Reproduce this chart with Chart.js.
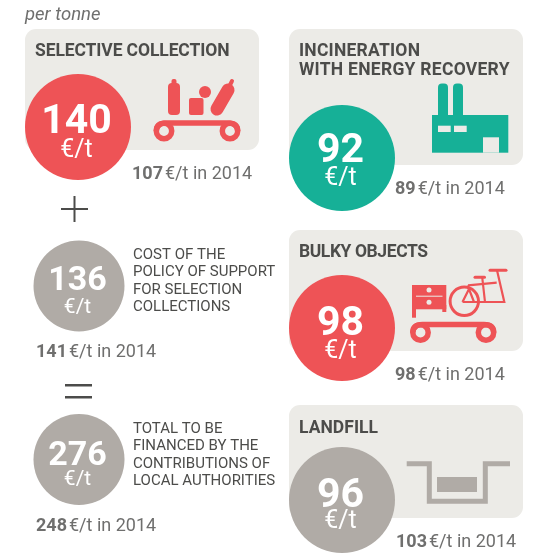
<!DOCTYPE html>
<html>
<head>
<meta charset="utf-8">
<style>
  html, body { margin: 0; padding: 0; background: #fff; }
  canvas { display: block; }
</style>
<script src="https://cdn.jsdelivr.net/npm/chart.js@4/dist/chart.umd.min.js"></script>
</head>
<body>
<canvas id="chart" width="556" height="556"></canvas>
<script>
// values, euros per tonne
const categories = ['Selective collection', 'Incineration with energy recovery', 'Bulky objects', 'Landfill', 'Cost of the policy of support', 'Total to be financed'];
const values2015 = [140, 92, 98, 96, 136, 276];
const values2014 = [107, 89, 98, 103, 141, 248];
const unitLabel = '€/t';
const yearSuffix = '€/t in 2014';
const panelTitles = [['SELECTIVE COLLECTION'], ['INCINERATION', 'WITH ENERGY RECOVERY'], ['BULKY OBJECTS'], ['LANDFILL']];
const sideNotes = [
    ['COST OF THE', 'POLICY OF SUPPORT', 'FOR SELECTION', 'COLLECTIONS'],
    ['TOTAL TO BE', 'FINANCED BY THE', 'CONTRIBUTIONS OF', 'LOCAL AUTHORITIES']
];

const RED = '#ee5356', GREEN = '#16b097', GREY = '#b0aba6', PANEL = '#ecebe7', DARK = '#4c4c4a', MID = '#6f6f6e';
const FONT = 'Roboto, sans-serif';

// layout of the circles, same order as categories
// numY and unitY are the text baselines measured from the circle centre
const circles = [
    { x: 78, y: 127, r: 53, color: RED, numY: 6, unitY: 30 },
    { x: 342, y: 158, r: 53, color: GREEN, numY: 4, unitY: 27 },
    { x: 342, y: 328, r: 53, color: RED, numY: 7, unitY: 30 },
    { x: 342, y: 500, r: 53, color: GREY, numY: 7, unitY: 28 },
    { x: 79, y: 286, r: 45.5, color: GREY, numY: 4, unitY: 26.5 },
    { x: 79, y: 459.5, r: 45.5, color: GREY, numY: 5, unitY: 25.5 }
];
const panels = [[25, 29, 234, 121], [289, 29, 234, 136], [289, 230, 234, 121], [289, 405, 234, 113]];
const titleSpots = [[35, 56], [299, 56], [299, 257], [299, 433]];
const titleWidths = [[194.5], [121, 210.5], [129], [79]];
const lastYearSpots = [[132, 179], [395, 194], [395, 380], [396, 547], [36, 357], [36, 531]];
const noteSpots = [[133, 259], [133, 433]];

// text stretched to the width it has in the picture
function fitText(c, t, x, y, width) {
    c.letterSpacing = '0px';
    const w = c.measureText(t).width;
    c.letterSpacing = ((width - w) / (t.length - 1)) + 'px';
    c.fillText(t, x, y);
    c.letterSpacing = '0px';
}

function cart(c, x1, x2, y, color) {
    // bar curving down into two wheels, shared by two icons
    const r = 7.7;
    c.strokeStyle = color;
    c.lineWidth = 5.5;
    c.lineCap = 'butt';
    c.beginPath();
    c.moveTo(x1 - r, y);
    c.quadraticCurveTo(x1 - r, y - 8, x1 + 2, y - 8);
    c.lineTo(x2 - 2, y - 8);
    c.quadraticCurveTo(x2 + r, y - 8, x2 + r, y);
    c.stroke();
    [x1, x2].forEach(x => {
        c.beginPath();
        c.arc(x, y, r, 0, Math.PI * 2);
        c.stroke();
    });
}

function drawIcons(c) {
    c.save();
    // recyclables on a cart
    cart(c, 164, 230, 131, RED);
    c.fillStyle = RED;
    c.beginPath(); c.roundRect(168, 83, 12, 32, 4); c.fill();
    c.beginPath(); c.roundRect(171.5, 79, 5, 8, 2); c.fill();
    c.beginPath(); c.roundRect(189, 98, 14.5, 17, 2); c.fill();
    c.beginPath(); c.arc(205, 92, 6, 0, Math.PI * 2); c.fill();
    c.strokeStyle = RED;
    c.lineCap = 'round';
    c.lineWidth = 13;
    c.beginPath(); c.moveTo(217, 109); c.lineTo(228, 90); c.stroke();
    c.lineWidth = 4;
    c.beginPath(); c.moveTo(230, 85); c.lineTo(232, 81); c.stroke();

    // factory
    c.fillStyle = GREEN;
    c.fillRect(432, 115, 76.3, 37.7);
    c.beginPath(); c.roundRect(438, 83.5, 10, 40, [4, 4, 0, 0]); c.fill();
    c.beginPath(); c.roundRect(453, 83.5, 10, 40, [4, 4, 0, 0]); c.fill();
    c.fillStyle = PANEL;
    c.fillRect(438, 125.7, 12.7, 6.3);
    c.fillRect(454, 125.7, 12.7, 6.3);
    c.fillRect(483, 137.3, 16, 15.4);

    // bulky objects on a cart
    cart(c, 420.5, 486, 332.5, RED);
    c.fillStyle = RED;
    c.fillRect(412, 285, 34.3, 24.3);
    c.fillRect(412, 305, 4, 12.7);
    c.fillRect(442.3, 305, 4, 7);
    c.fillStyle = PANEL;
    c.fillRect(416, 295.7, 26.5, 1);
    c.beginPath(); c.arc(429, 290, 2.5, 0, Math.PI * 2); c.fill();
    c.beginPath(); c.arc(429, 302.3, 2.5, 0, Math.PI * 2); c.fill();
    c.strokeStyle = RED;
    c.lineCap = 'butt';
    c.lineWidth = 3;
    c.beginPath(); c.arc(464.3, 301.3, 14.2, 0, Math.PI * 2); c.stroke();
    c.lineWidth = 2.2;
    c.beginPath();
    c.moveTo(462.5, 302); c.lineTo(504.3, 302); c.lineTo(497, 270.3);
    c.moveTo(462.5, 302); c.lineTo(469, 289); c.lineTo(474, 302);
    c.moveTo(468, 285.3); c.lineTo(496.7, 282.7);
    c.moveTo(482.3, 278); c.lineTo(485, 302);
    c.moveTo(469, 289); c.lineTo(468, 285.3);
    c.stroke();
    c.lineWidth = 3;
    c.lineCap = 'round';
    c.beginPath(); c.moveTo(490, 270.3); c.lineTo(506, 270.3); c.stroke();
    c.beginPath(); c.moveTo(475, 277.3); c.lineTo(484.5, 277.3); c.stroke();

    // landfill pit
    c.strokeStyle = GREY;
    c.lineCap = 'butt';
    c.lineJoin = 'miter';
    c.lineWidth = 5;
    c.beginPath();
    c.moveTo(406.7, 463.7); c.lineTo(429.3, 463.7); c.lineTo(429.3, 501.3);
    c.lineTo(485.3, 501.3); c.lineTo(485.3, 463.7); c.lineTo(510, 463.7);
    c.stroke();
    c.fillStyle = GREY;
    c.fillRect(437, 477, 40, 15);
    c.restore();
}

const panelPlugin = {
    id: 'panels',
    beforeDatasetsDraw(chart) {
        const c = chart.ctx;
        c.save();
        c.fillStyle = PANEL;
        panels.forEach(p => {
            c.beginPath();
            c.roundRect(p[0], p[1], p[2], p[3], 11);
            c.fill();
        });
        c.restore();
        drawIcons(c);
    }
};

const textPlugin = {
    id: 'texts',
    afterDatasetsDraw(chart) {
        const c = chart.ctx;
        c.save();
        c.textBaseline = 'alphabetic';

        c.fillStyle = MID;
        c.font = 'italic 18.5px ' + FONT;
        c.fillText('per tonne', 25, 20);

        // numbers inside the circles
        c.textAlign = 'center';
        c.fillStyle = '#fff';
        circles.forEach((p, i) => {
            const big = p.r > 50;
            c.font = 'bold ' + (big ? 41 : 34) + 'px ' + FONT;
            c.fillText(String(values2015[i]), p.x - 1.5, p.y + p.numY);
            c.font = (big ? 25 : 21) + 'px ' + FONT;
            c.fillText(unitLabel, p.x - 1.5, p.y + p.unitY);
        });
        c.textAlign = 'left';

        // panel headings
        c.fillStyle = DARK;
        c.font = 'bold 17.5px ' + FONT;
        panelTitles.forEach((lines, i) => {
            lines.forEach((t, j) => fitText(c, t, titleSpots[i][0], titleSpots[i][1] + j * 19, titleWidths[i][j]));
        });

        // 2014 figures
        values2014.forEach((v, i) => {
            const [x, y] = lastYearSpots[i];
            c.fillStyle = MID;
            c.font = 'bold 18px ' + FONT;
            c.fillText(String(v), x, y);
            const w = c.measureText(String(v)).width;
            c.font = '18px ' + FONT;
            c.fillText(yearSuffix, x + w + 2, y);
        });

        // notes next to the grey circles
        c.fillStyle = DARK;
        c.font = '15px ' + FONT;
        sideNotes.forEach((lines, i) => {
            lines.forEach((t, j) => c.fillText(t, noteSpots[i][0], noteSpots[i][1] + j * 17.3));
        });

        // plus and equals signs
        c.fillStyle = DARK;
        c.fillRect(61, 208, 27, 2);
        c.fillRect(73.5, 196, 2, 26);
        c.fillRect(65, 384, 27, 2.5);
        c.fillRect(65, 396, 27, 2.5);
        c.restore();
    }
};

new Chart(document.getElementById('chart'), {
    type: 'bubble',
    data: {
        labels: categories,
        datasets: [{
            data: values2015.map((v, i) => ({ x: circles[i].x, y: circles[i].y, r: circles[i].r, v: v })),
            backgroundColor: circles.map(p => p.color),
            borderWidth: 0,
            hoverRadius: 0,
            clip: false
        }]
    },
    options: {
        responsive: false,
        animation: false,
        layout: { padding: 0, autoPadding: false },
        plugins: { legend: { display: false }, tooltip: { enabled: false } },
        scales: {
            x: { type: 'linear', min: 0, max: 556, display: false },
            y: { type: 'linear', min: 0, max: 556, reverse: true, display: false }
        }
    },
    plugins: [panelPlugin, textPlugin]
});
</script>
</body>
</html>
